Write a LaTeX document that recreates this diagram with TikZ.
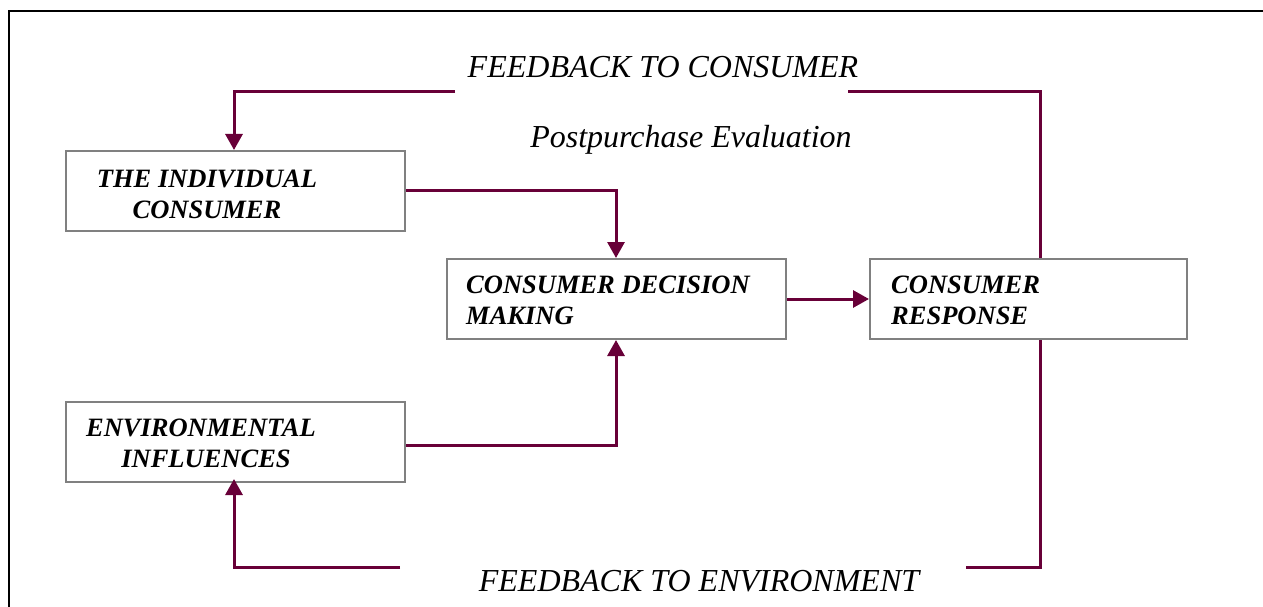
\documentclass[tikz,border=0pt]{standalone}
\usepackage{fontspec}
\setmainfont{Liberation Serif}
\usetikzlibrary{arrows.meta}
\definecolor{maroon}{RGB}{104,0,56}
\definecolor{boxgray}{RGB}{128,128,128}
\tikzset{
  blk/.style={draw=boxgray, line width=2pt, minimum width=339pt, minimum height=80pt, inner sep=0pt, anchor=north west},
  lbl/.style={font=\fontsize{26.5}{31}\selectfont\bfseries\itshape, inner sep=0pt},
  captxt/.style={font=\fontsize{32}{36}\selectfont\itshape, inner sep=0pt},
  conn/.style={draw=maroon, line width=3pt},
  arr/.style={conn, -{Triangle[length=16pt,width=17pt]}}
}
\begin{document}
\begin{tikzpicture}[x=1pt,y=-1pt]
\useasboundingbox (0,0) rectangle (1263,607);
\draw[line width=2pt] (9,607) -- (9,11) -- (1263,11);
% boxes
\node[blk] (ind) at (65,150) {};
\node[blk] (dec) at (446,258) {};
\node[blk, minimum width=317pt] (res) at (869,258) {};
\node[blk] (env) at (65,401) {};
% box texts
\node[lbl, align=center] (indt) at (207,194) {THE INDIVIDUAL\\CONSUMER};
\node[lbl, align=left, anchor=west] (dect) at (466,300) {CONSUMER DECISION\\MAKING};
\node[lbl, align=left, anchor=west] (rest) at (891,300) {CONSUMER\\RESPONSE};
\node[lbl, align=center] (envt) at (201,443) {ENVIRONMENTAL\\\hspace*{10pt}INFLUENCES};
% captions
\node[captxt] (fbc) at (663,67) {FEEDBACK TO CONSUMER};
\node[captxt] (pe) at (691,140) {Postpurchase Evaluation};
\node[captxt] (fbe) at (699,581) {FEEDBACK TO ENVIRONMENT};
% coordinates
\coordinate (c1) at (455,92);
\coordinate (c2) at (848,92);
\coordinate (c3) at (400,567);
\coordinate (c4) at (966,567);
% connectors
\draw[arr] (c1) -- (234,92) -- (ind.north -| 234,0);
\draw[conn] (c2) -- (1040,92) -- (res.north -| 1040,0);
\draw[arr] (ind.east |- 0,190) -- (616,190) -- (dec.north -| 616,0);
\draw[arr] (env.east |- 0,445) -- (616,445) -- (dec.south -| 616,0);
\draw[arr] (dec.east) -- (res.west);
\draw[conn] (res.south -| 1040,0) -- (1040,567) -- (c4);
\draw[arr] (c3) -- (234,567) -- ([yshift=4pt]env.south -| 234,0);
\end{tikzpicture}
\end{document}
